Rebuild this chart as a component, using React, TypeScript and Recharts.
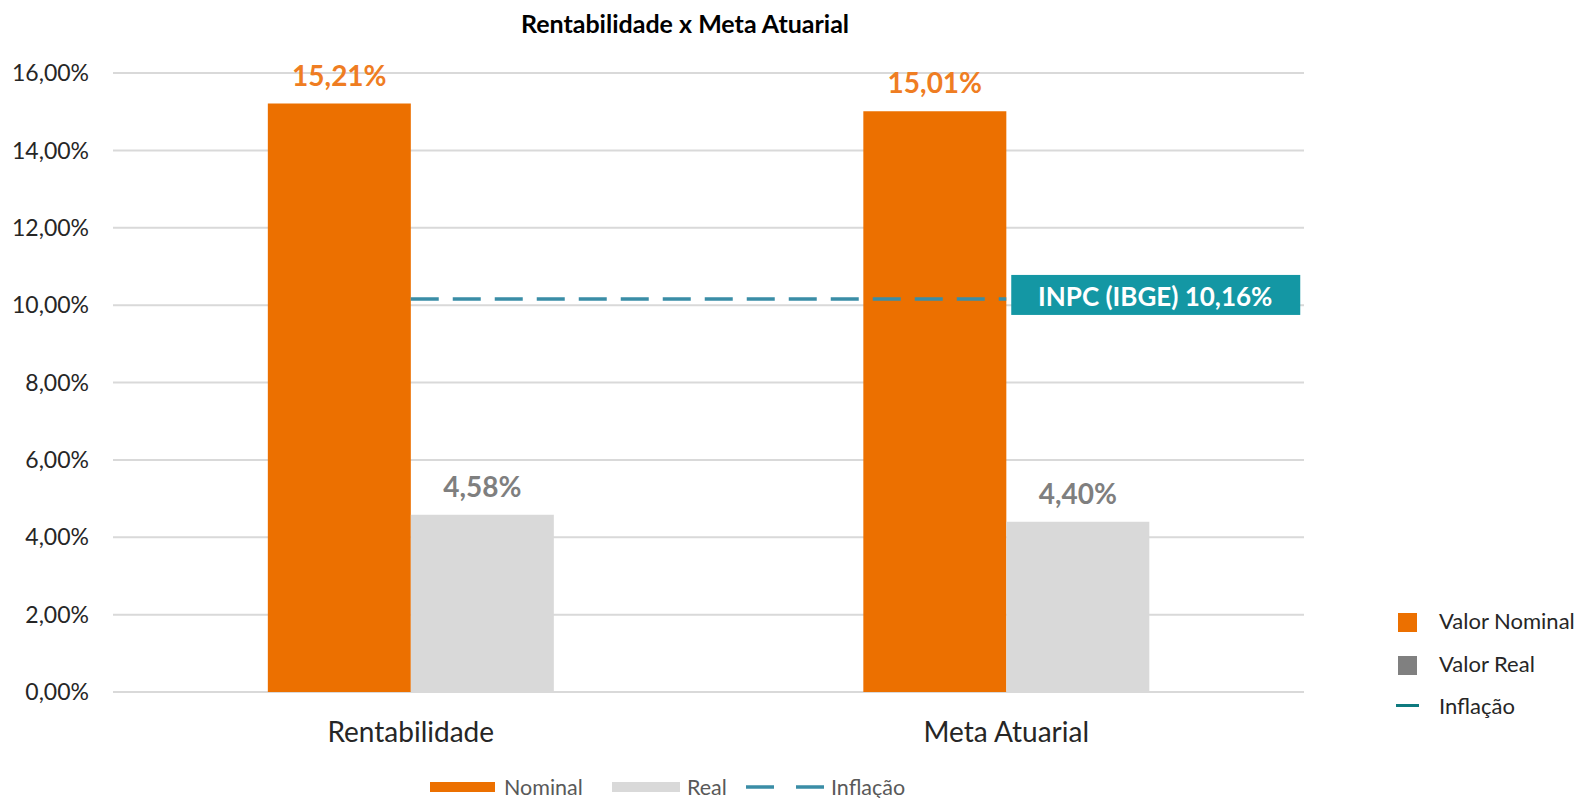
import React from 'react';
import { ComposedChart, Bar, Line, XAxis, YAxis, CartesianGrid, LabelList, Legend } from 'recharts';

const title = 'Rentabilidade x Meta Atuarial';
const categories = ['Rentabilidade', 'Meta Atuarial'];
const nominalValues = [15.21, 15.01];
const realValues = [4.58, 4.4];
const inflationValues = [10.16, 10.16];
const yTicks = [0, 2, 4, 6, 8, 10, 12, 14, 16];
const inflationLabel = 'INPC (IBGE) 10,16%';
const bottomLegend = ['Nominal', 'Real', 'Inflação'];
const sideLegend = ['Valor Nominal', 'Valor Real', 'Inflação'];

const data = categories.map((c, i) => ({
  name: c,
  nominal: nominalValues[i],
  real: realValues[i],
  inflacao: inflationValues[i],
}));

const FONT = 'Lato, "Open Sans", sans-serif';
const ORANGE = '#EC7000';
const ORANGE_LABEL = '#EF7D22';
const GRAY = '#D9D9D9';
const GRAY_LABEL = '#7F7F7F';
const DASH = '#3A8DA6';
const BOX = '#1497A4';

const fmt = (v: number) => v.toFixed(2).replace('.', ',') + '%';

const InflationLabel = (props: any) => {
  const { x, y, index } = props;
  if (index !== 1) return <g />;
  const bx = x + 5;
  const by = y - 24;
  return (
    <g>
      <rect x={bx} y={by} width={289} height={40} fill={BOX} />
      <text x={bx + 144} y={by + 21} textAnchor="middle" dominantBaseline="central" fill="#fff" fontFamily={FONT} fontWeight={700} fontSize={26}>
        {inflationLabel}
      </text>
    </g>
  );
};

const BottomLegend = () => (
  <div style={{ height: 30, position: 'relative', fontFamily: FONT, fontSize: 21.5, color: '#595959' }}>
    <div style={{ position: 'absolute', left: 430, top: 14, width: 65, height: 10, background: ORANGE }} />
    <div style={{ position: 'absolute', left: 504, top: 5, lineHeight: '28px' }}>{bottomLegend[0]}</div>
    <div style={{ position: 'absolute', left: 612, top: 14, width: 68, height: 10, background: GRAY }} />
    <div style={{ position: 'absolute', left: 687, top: 5, lineHeight: '28px' }}>{bottomLegend[1]}</div>
    <svg style={{ position: 'absolute', left: 745, top: 16 }} width={80} height={6}>
      <line x1={1} y1={3} x2={79} y2={3} stroke={DASH} strokeWidth={3.5} strokeDasharray="28 22" />
    </svg>
    <div style={{ position: 'absolute', left: 831, top: 5, lineHeight: '28px' }}>{bottomLegend[2]}</div>
  </div>
);

export default function App() {
  return (
    <div style={{ position: 'absolute', left: 0, top: 0, width: 1577, height: 798, background: '#fff', fontFamily: FONT }}>
      <div style={{ position: 'absolute', left: 385, width: 600, top: 8, textAlign: 'center', fontWeight: 700, fontSize: 25, color: '#000' }}>
        {title}
      </div>
      <ComposedChart
        width={1577}
        height={798}
        data={data}
        margin={{ top: 73, right: 273, bottom: 0, left: 0 }}
        barCategoryGap="26%"
        barGap={0}
      >
        <CartesianGrid vertical={false} stroke="#D9D9D9" strokeWidth={2} />
        <XAxis
          dataKey="name"
          axisLine={false}
          tickLine={false}
          height={76}
          tickMargin={24}
          tick={{ fontSize: 28, fill: '#262626', fontFamily: FONT }}
        />
        <YAxis
          domain={[0, 16]}
          ticks={yTicks}
          axisLine={false}
          tickLine={false}
          width={113}
          tickMargin={18}
          tickFormatter={fmt}
          tick={{ fontSize: 23, fill: '#262626', fontFamily: FONT }}
        />
        <Bar dataKey="nominal" fill={ORANGE} isAnimationActive={false}>
          <LabelList dataKey="nominal" position="top" offset={18} formatter={fmt} fill={ORANGE_LABEL} fontSize={28} fontWeight={700} fontFamily={FONT} />
        </Bar>
        <Bar dataKey="real" fill={GRAY} isAnimationActive={false}>
          <LabelList dataKey="real" position="top" offset={18} formatter={fmt} fill={GRAY_LABEL} fontSize={28} fontWeight={700} fontFamily={FONT} />
        </Bar>
        <Line
          dataKey="inflacao"
          stroke={DASH}
          strokeWidth={3.5}
          strokeDasharray="28 14"
          dot={false}
          activeDot={false}
          isAnimationActive={false}
          label={InflationLabel}
        />
        <Legend verticalAlign="bottom" align="left" content={BottomLegend} wrapperStyle={{ width: 1577, left: 0 }} />
      </ComposedChart>
      <div style={{ position: 'absolute', left: 0, top: 0, fontSize: 22, color: '#262626' }}>
        <div style={{ position: 'absolute', left: 1398, top: 613, width: 19, height: 19, background: ORANGE }} />
        <div style={{ position: 'absolute', left: 1439, top: 607, lineHeight: '28px', whiteSpace: 'nowrap' }}>{sideLegend[0]}</div>
        <div style={{ position: 'absolute', left: 1398, top: 656, width: 19, height: 19, background: '#808080' }} />
        <div style={{ position: 'absolute', left: 1439, top: 650, lineHeight: '28px', whiteSpace: 'nowrap' }}>{sideLegend[1]}</div>
        <div style={{ position: 'absolute', left: 1396, top: 704, width: 23, height: 3, background: '#0E7A7F' }} />
        <div style={{ position: 'absolute', left: 1439, top: 692, lineHeight: '28px', whiteSpace: 'nowrap' }}>{sideLegend[2]}</div>
      </div>
    </div>
  );
}
